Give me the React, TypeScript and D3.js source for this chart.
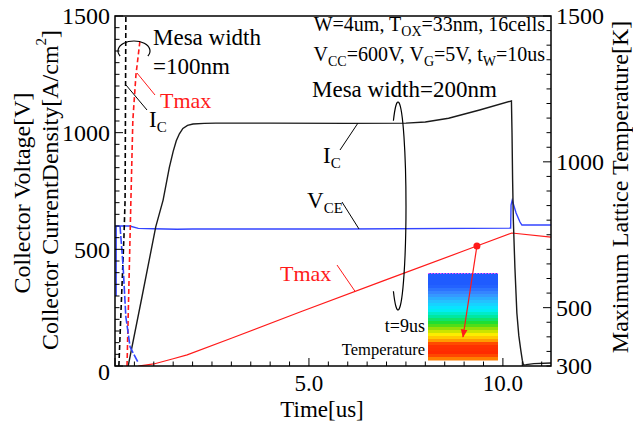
import React from 'react';
import * as d3 from 'd3';

const W = 633;
const H = 423;
const PLOT = { left: 115, right: 551, top: 16, bottom: 366 };
const FONT = '"Liberation Serif", "DejaVu Serif", "Times New Roman", serif';

// Axis domains and tick labels
const timeDomain: [number, number] = [0, 11.24];
const leftDomain: [number, number] = [0, 1500];
const tempDomain: [number, number] = [300, 1500];
const leftTickValues = [0, 500, 1000, 1500];
const tempTickValues = [300, 500, 1000, 1500];
const timeTickValues = [5, 10];
const timeTickLabels = ['5.0', '10.0'];

// Mesa width = 200 nm : collector current density [A/cm2] vs time [us]
const ic200: [number, number][] = [
  [0.34, 0], [0.7, 300], [1.05, 596], [1.24, 711], [1.4, 850], [1.5, 920],
  [1.58, 965], [1.66, 995], [1.75, 1018], [1.87, 1031], [2.01, 1037],
  [2.3, 1040], [2.6, 1041], [4.0, 1041], [6.0, 1040], [7.5, 1041],
  [8.0, 1046], [8.6, 1062], [9.4, 1097], [10.22, 1136], [10.235, 1000],
  [10.25, 800], [10.27, 620], [10.31, 420], [10.36, 227], [10.41, 130],
  [10.46, 69], [10.5, 25], [10.53, 5], [10.6, 6], [10.8, 10], [11.24, 13],
];
// Mesa width = 200 nm : collector voltage [V]
const vce200: [number, number][] = [
  [0.03, 300], [0.03, 600], [0.38, 600], [0.6, 590], [1.0, 588], [1.6, 586],
  [2.0, 587], [3.0, 587], [6.0, 587], [10.2, 591], [10.21, 690],
  [10.24, 711], [10.34, 656], [10.44, 617], [10.49, 604], [11.24, 604],
];
// Mesa width = 200 nm : maximum lattice temperature [K]
const tmax200: [number, number][] = [
  [0.6, 300], [1.0, 307], [1.5, 325], [1.86, 338], [3.0, 395], [4.77, 485],
  [7.0, 596], [9.0, 695], [10.23, 756], [11.24, 742],
];
// Mesa width = 100 nm
const ic100: [number, number][] = [
  [0.1, 0], [0.17, 300], [0.23, 550], [0.26, 711], [0.27, 1100], [0.28, 1500], [0.285, 1600],
];
const vce100: [number, number][] = [
  [0.13, 600], [0.21, 424], [0.28, 210], [0.39, 81], [0.59, 17],
];
const tmax100: [number, number][] = [
  [0.31, 300], [0.36, 585], [0.41, 869], [0.46, 1143], [0.54, 1298], [0.64, 1411],
];

// Temperature snapshot time marked on the Tmax curve
const snapshotTime = 9.33;

// Temperature map colours, from the top of the cell to the bottom
const mapStops = [0, 0.14, 0.24, 0.33, 0.42, 0.5, 0.58, 0.65, 0.71, 0.77, 0.82, 0.93, 1];
const mapColors = [
  '#1f5bff', '#1f5bff', '#3a8cff', '#22c4ff', '#00eeff', '#00e8a0', '#22dd22',
  '#aade00', '#ffee00', '#ffaa00', '#ff3300', '#ff2a00', '#ff9900',
];

const x = d3.scaleLinear().domain(timeDomain).range([PLOT.left, PLOT.right]);
const yL = d3.scaleLinear().domain(leftDomain).range([PLOT.bottom, PLOT.top]);
const yT = d3.scaleLinear().domain(tempDomain).range([PLOT.bottom, PLOT.top]);

const lineL = d3.line<[number, number]>().x((d) => x(d[0])).y((d) => yL(d[1]));
const lineT = d3.line<[number, number]>().x((d) => x(d[0])).y((d) => yT(d[1]));

function valueAt(series: [number, number][], t: number) {
  const xs = series.map((d) => d[0]);
  const ys = series.map((d) => d[1]);
  return d3.scaleLinear().domain(xs).range(ys)(t);
}

const RED = '#ff1a1a';
const BLUE = '#3344ff';

export default function App() {
  const leftMinor = d3.range(0, 1501, 50);
  const tempMinor = d3.range(300, 1501, 50);
  const timeMinor = d3.range(0, timeDomain[1], 0.5);

  const snapT = valueAt(tmax200, snapshotTime);
  const dot = { x: x(snapshotTime), y: yT(snapT) };

  // inset temperature map
  const inset = { x: 428, y: 273, w: 70, h: 87 };
  const colorAt = d3.scaleLinear<string>().domain(mapStops).range(mapColors).interpolate(d3.interpolateRgb);
  const bandCount = 29;
  const bands = d3.range(bandCount).map((i) => ({
    y: inset.y + (i * inset.h) / bandCount,
    h: inset.h / bandCount + 0.5,
    c: colorAt((i + 0.5) / bandCount),
  }));

  // 200 nm loop around the curves
  const loop = { cx: 398, cy: 206, rx: 8, ry: 104 };
  const a0 = (-125 * Math.PI) / 180;
  const a1 = (125 * Math.PI) / 180;
  const loopPath = `M ${loop.cx + loop.rx * Math.cos(a0)} ${loop.cy + loop.ry * Math.sin(a0)} A ${loop.rx} ${loop.ry} 0 1 1 ${loop.cx + loop.rx * Math.cos(a1)} ${loop.cy + loop.ry * Math.sin(a1)}`;

  // 100 nm arc over the steep curves
  const arc = { cx: 134, cy: 51, rx: 16, ry: 10 };
  const b0 = (150 * Math.PI) / 180;
  const b1 = (30 * Math.PI) / 180;
  const arcPath = `M ${arc.cx + arc.rx * Math.cos(b0)} ${arc.cy + arc.ry * Math.sin(b0)} A ${arc.rx} ${arc.ry} 0 1 1 ${arc.cx + arc.rx * Math.cos(b1)} ${arc.cy + arc.ry * Math.sin(b1)}`;

  const leaderIc200 = { t: 6.26, v: valueAt(ic200, 6.26) };
  const leaderVce200 = { t: 6.29, v: valueAt(vce200, 6.29) };
  const leaderT200 = { t: 6.19, v: valueAt(tmax200, 6.19) };

  const txt = { fontFamily: FONT };

  return (
    <svg width={W} height={H} style={{ position: 'absolute', left: 0, top: 0, background: '#fff', fontFamily: FONT }}>
      <defs>
        <clipPath id="plotClip">
          <rect x={PLOT.left} y={PLOT.top} width={PLOT.right - PLOT.left} height={PLOT.bottom - PLOT.top} />
        </clipPath>
        <marker id="arrowHead" viewBox="0 0 10 10" refX="9" refY="5" markerWidth="7" markerHeight="7" orient="auto">
          <path d="M0,1 L10,5 L0,9 Z" fill={RED} />
        </marker>
      </defs>
      <rect width={W} height={H} fill="#fff" />

      {/* inset temperature map */}
      <g style={txt}>
        {bands.map((b, i) => (
          <rect key={i} x={inset.x} y={b.y} width={inset.w} height={b.h} fill={b.c} />
        ))}
        <line x1={inset.x} x2={inset.x + inset.w} y1={inset.y + 0.5} y2={inset.y + 0.5} stroke="#ff55ff" strokeWidth={1.2} strokeDasharray="1.5 1.5" />
        <text x={425} y={332} fontSize={18} textAnchor="end" fill="#000">t=9us</text>
        <text x={425} y={355} fontSize={16.5} textAnchor="end" fill="#000">Temperature</text>
      </g>

      {/* curves */}
      <g clipPath="url(#plotClip)" fill="none">
        <path d={lineT(tmax200) || ''} stroke={RED} strokeWidth={1.2} />
        <path d={lineL(vce200) || ''} stroke={BLUE} strokeWidth={1.4} />
        <path d={lineL(ic200) || ''} stroke="#1a1a1a" strokeWidth={1.4} />
        <path d={lineL(ic100) || ''} stroke="#000" strokeWidth={1.6} strokeDasharray="5 3" />
        <path d={lineT(tmax100) || ''} stroke={RED} strokeWidth={1.6} strokeDasharray="5 3" />
        <path d={lineL(vce100) || ''} stroke={BLUE} strokeWidth={1.6} strokeDasharray="8 2" />
      </g>

      {/* snapshot marker and arrow into the temperature map */}
      <circle cx={dot.x} cy={dot.y} r={3.5} fill={RED} />
      <line x1={dot.x} y1={dot.y} x2={463} y2={337} stroke={RED} strokeWidth={1.2} markerEnd="url(#arrowHead)" />

      {/* frame */}
      <rect x={PLOT.left} y={PLOT.top} width={PLOT.right - PLOT.left} height={PLOT.bottom - PLOT.top} fill="none" stroke="#000" strokeWidth={1.5} />

      {/* ticks */}
      <g stroke="#000" strokeWidth={1}>
        {leftMinor.map((v) => (
          <line key={'l' + v} x1={PLOT.left} x2={PLOT.left + (v % 500 === 0 ? 8 : 4.5)} y1={yL(v)} y2={yL(v)} />
        ))}
        {tempMinor.map((v) => (
          <line key={'r' + v} x1={PLOT.right} x2={PLOT.right - (v % 500 === 0 ? 8 : 4.5)} y1={yT(v)} y2={yT(v)} />
        ))}
        {timeMinor.map((t) => (
          <line key={'b' + t} x1={x(t)} x2={x(t)} y1={PLOT.bottom} y2={PLOT.bottom - (t % 5 === 0 ? 8 : 4.5)} />
        ))}
      </g>

      {/* tick labels */}
      <g fontSize={24} fill="#000" style={txt}>
        {leftTickValues.map((v) => (
          <text key={'lt' + v} x={110} y={yL(v) + (v === 0 ? 6 : 0)} dy="0.35em" textAnchor="end">{v}</text>
        ))}
        {tempTickValues.map((v) => (
          <text key={'rt' + v} x={556} y={yT(v)} dy="0.35em" textAnchor="start">{v}</text>
        ))}
        {timeTickValues.map((t, i) => (
          <text key={'bt' + t} x={x(t)} y={391} fontSize={23} textAnchor="middle">{timeTickLabels[i]}</text>
        ))}
      </g>

      {/* axis titles */}
      <g fontSize={24} fill="#000" style={txt}>
        <text x={322} y={417} fontSize={23} textAnchor="middle">Time[us]</text>
        <text transform="translate(22,193) rotate(-90)" textAnchor="middle" dominantBaseline="central">Collector Voltage[V]</text>
        <text transform="translate(50,190) rotate(-90)" textAnchor="middle" dominantBaseline="central">
          Collector CurrentDensity[A/cm<tspan fontSize={15} dy={-9}>2</tspan><tspan dy={9}>]</tspan>
        </text>
        <text transform="translate(620,187) rotate(-90)" textAnchor="middle" dominantBaseline="central">Maximum Lattice Temperature[K]</text>
      </g>

      {/* conditions */}
      <g fontSize={20} fill="#000" style={txt}>
        <text x={545} y={31} textAnchor="end">
          W=4um, T<tspan fontSize={14} dy={5}>OX</tspan><tspan dy={-5}>=33nm, 16cells</tspan>
        </text>
        <text x={545} y={61} textAnchor="end">
          V<tspan fontSize={14} dy={5}>CC</tspan><tspan dy={-5}>=600V, V</tspan><tspan fontSize={14} dy={5}>G</tspan><tspan dy={-5}>=5V, t</tspan><tspan fontSize={14} dy={5}>W</tspan><tspan dy={-5}>=10us</tspan>
        </text>
      </g>

      {/* mesa width 100 nm annotations */}
      <path d={arcPath} fill="none" stroke="#000" strokeWidth={1.2} />
      <g fontSize={23} fill="#000" style={txt}>
        <text x={153} y={45}>Mesa width</text>
        <text x={153} y={74}>=100nm</text>
      </g>
      <line x1={137} y1={73} x2={155} y2={95} stroke={RED} strokeWidth={1} />
      <text x={160} y={108} fontSize={22} fill={RED} style={txt}>Tmax</text>
      <line x1={126} y1={85} x2={147} y2={110} stroke="#000" strokeWidth={1} />
      <text x={149} y={127} fontSize={23} fill="#000" style={txt}>I<tspan fontSize={15} dy={5}>C</tspan></text>

      {/* mesa width 200 nm annotations */}
      <text x={312} y={97} fontSize={23} fill="#000" style={txt}>Mesa width=200nm</text>
      <path d={loopPath} fill="none" stroke="#000" strokeWidth={1.2} />
      <line x1={340} y1={150} x2={x(leaderIc200.t)} y2={yL(leaderIc200.v)} stroke="#000" strokeWidth={1} />
      <text x={323} y={163} fontSize={23} fill="#000" style={txt}>I<tspan fontSize={15} dy={5}>C</tspan></text>
      <line x1={342} y1={202} x2={x(leaderVce200.t)} y2={yL(leaderVce200.v)} stroke="#000" strokeWidth={1} />
      <text x={307} y={208} fontSize={23} fill="#000" style={txt}>V<tspan fontSize={15} dy={5}>CE</tspan></text>
      <line x1={337} y1={265} x2={x(leaderT200.t)} y2={yT(leaderT200.v)} stroke={RED} strokeWidth={1} />
      <text x={280} y={281} fontSize={22} fill={RED} style={txt}>Tmax</text>
    </svg>
  );
}
